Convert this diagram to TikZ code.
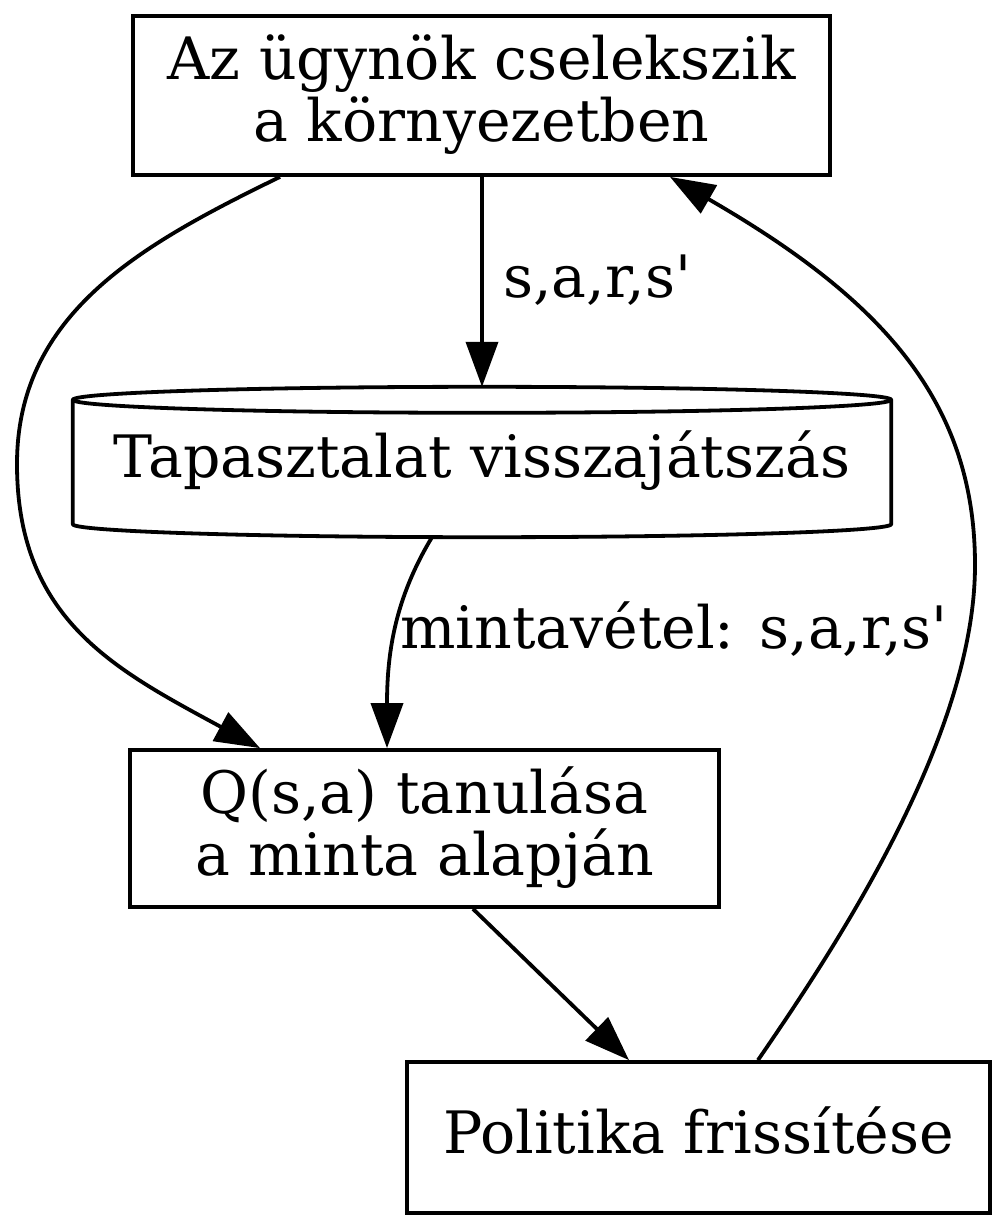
\documentclass[tikz,border=0pt]{standalone}
\usepackage{fontspec}
\newfontfamily\dvs{DejaVu Serif}
\usetikzlibrary{arrows.meta,calc}
\newcommand\lnst{\rule[-15pt]{0pt}{60pt}}
\begin{document}
\begin{tikzpicture}[x=1pt,y=-1pt,
  every node/.style={font=\dvs\fontsize{58.5}{62}\selectfont, inner sep=0pt},
  box/.style={draw, line width=3.8pt, align=center},
  cyl/.style={line width=3.8pt, line join=round},
  edge/.style={line width=3.8pt, -{Triangle[length=45pt,width=32pt]}},
  lab/.style={anchor=base west}]
\useasboundingbox (0,0) rectangle (1008,1229);

\node[box, minimum width=697pt, minimum height=159pt] (A) at (481.5,95.5)
  {\lnst Az ügynök cselekszik\\\lnst a környezetben};
\node[align=center, minimum width=818pt, minimum height=150pt] (B) at (482,462)
  {\lnst Tapasztalat visszajátszás};
\node[box, minimum width=589pt, minimum height=157pt] (C) at (424.5,828.5)
  {\lnst Q(s,a) tanulása\\\lnst a minta alapján};
\node[box, minimum width=583pt, minimum height=151pt] (D) at (698.5,1137.5)
  {\lnst Politika frissítése};

% cylinder outline of B
\coordinate (tl) at ($(B.north west)+(0,13)$);
\coordinate (tr) at ($(B.north east)+(0,13)$);
\coordinate (bl) at ($(B.south west)+(0,-13)$);
\coordinate (br) at ($(B.south east)+(0,-13)$);
\draw[cyl] (tl) .. controls ($(tl)+(0,-7)$) and ($(B.north)+(-232,0)$) .. (B.north)
  .. controls ($(B.north)+(232,0)$) and ($(tr)+(0,-7)$) .. (tr) -- (br)
  .. controls ($(br)+(0,7)$) and ($(B.south)+(232,0)$) .. (B.south)
  .. controls ($(B.south)+(-232,0)$) and ($(bl)+(0,7)$) .. (bl) -- cycle;
\draw[cyl] (tl) .. controls ($(tl)+(0,7)$) and ($(B.north)+(-232,26)$) .. ($(B.north)+(0,26)$)
  .. controls ($(B.north)+(232,26)$) and ($(tr)+(0,7)$) .. (tr);

% edges
\draw[edge] (A.south -| B.north) -- (B.north);
\node[lab] (l1) at (503,297) {s,a,r,s'};
\draw[edge] ($(A.south)+(-201.5,0)$) .. controls (140,245) and (17,314) .. (17,464)
  .. controls (17,620) and (116,670) .. ($(C.north)+(-164.5,0)$);
\draw[edge] ($(B.south)+(-50,0)$) .. controls (396,597) and (387,650) .. ($(C.north)+(-37.5,0)$);
\node[lab] (l2) at (400,648) {mintavétel: s,a,r,s'};
\draw[edge] ($(C.south)+(48.5,0)$) -- ($(D.north)+(-69.5,0)$);
\draw[edge] ($(D.north)+(59.5,0)$) .. controls (830,955) and (975,740) .. (975,565)
  .. controls (975,400) and (880,298) .. ($(A.south)+(188.5,0)$);
\end{tikzpicture}
\end{document}
